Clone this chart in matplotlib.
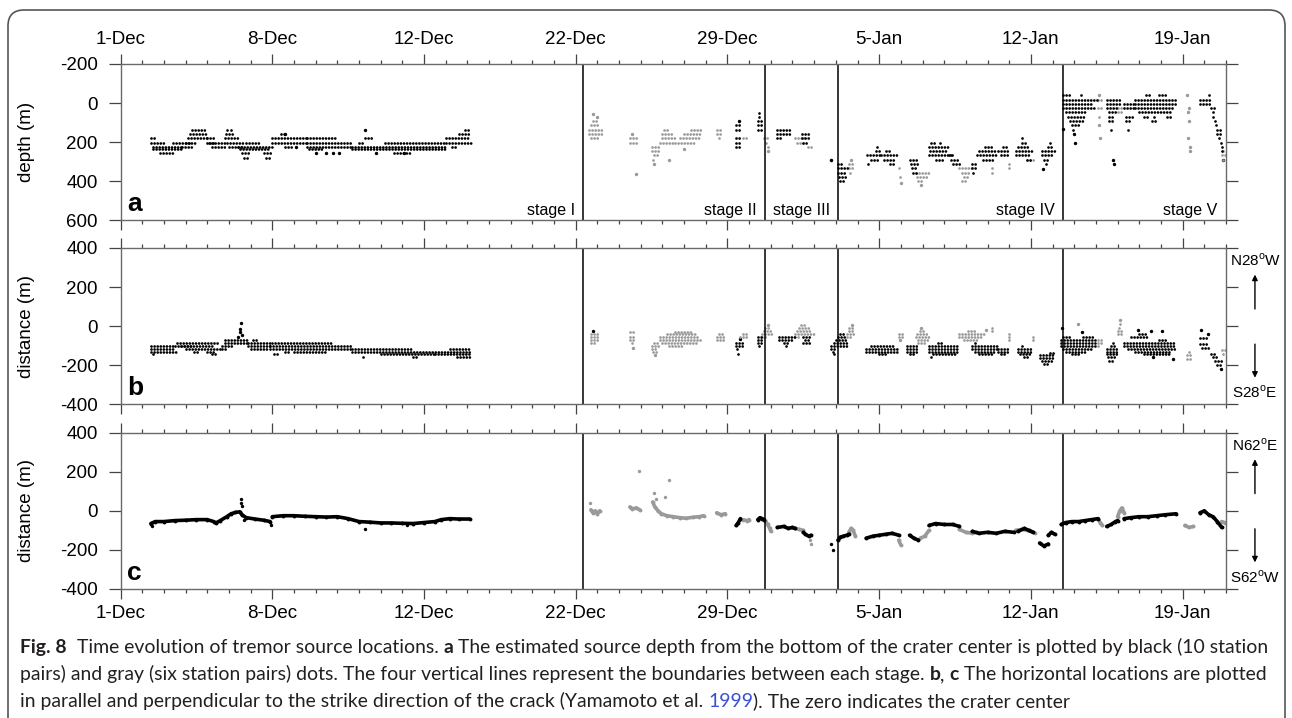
import matplotlib
matplotlib.use('Agg')
import matplotlib.pyplot as plt
from matplotlib.patches import FancyBboxPatch

plt.rcParams['font.family'] = ['Liberation Sans', 'DejaVu Sans']
plt.rcParams['axes.unicode_minus'] = False
plt.rcParams['mathtext.fontset'] = 'custom'
plt.rcParams['mathtext.rm'] = 'Liberation Sans'

# time axis: days since 1-Dec, one minor tick per day
day_ticks = [0, 7, 14, 21, 28, 35, 42, 49]
day_labels = ['1-Dec', '8-Dec', '12-Dec', '22-Dec', '29-Dec', '5-Jan', '12-Jan', '19-Jan']
stage_bounds = [21.35, 29.74, 33.12, 43.5]
stage_names = ['stage I', 'stage II', 'stage III', 'stage IV', 'stage V']
t_end = 51

# ---- panel a: depth rows (t_start, t_end, depth) ----
a_black_rows = [
    (1.42, 1.7, 180), (1.42, 2.0, 202), (1.5, 2.9, 224), (1.5, 2.9, 236), (1.8, 2.47, 258),
    (2.4, 3.5, 202), (2.85, 3.4, 224),
    (3.3, 4.0, 136), (3.2, 4.0, 158), (3.1, 4.1, 180), (3.0, 3.3, 202),
    (4.0, 4.4, 180), (4.0, 4.4, 202), (4.1, 4.9, 202), (4.2, 4.9, 224),
    (4.8, 5.4, 180), (4.85, 5.2, 158), (4.9, 5.0, 136), (5.1, 5.2, 136),
    (4.9, 5.7, 202), (5.0, 5.7, 224),
    (5.4, 7.0, 224), (5.5, 6.9, 236), (5.6, 6.0, 258), (5.7, 5.9, 280),
    (6.6, 6.95, 258), (6.7, 6.95, 280), (5.8, 6.5, 202),
    (7.0, 8.6, 180), (7.0, 8.6, 202), (7.4, 7.65, 158), (7.6, 8.0, 224),
    (8.6, 10.7, 202), (8.6, 10.0, 180), (8.6, 10.7, 224), (8.7, 9.3, 236),
    (10.7, 15.0, 224), (10.7, 15.0, 236), (12.2, 15.0, 202), (11.3, 11.6, 180), (11.0, 11.3, 202),
    (12.6, 13.4, 258),
    (15.0, 16.1, 180), (15.0, 16.15, 202), (15.6, 16.15, 158), (15.9, 16.15, 136), (15.3, 15.5, 224),
    (28.4, 28.6, 114), (28.4, 28.6, 136), (28.4, 28.6, 180), (28.4, 28.6, 202), (28.4, 28.6, 224),
    (29.45, 29.6, 70), (29.4, 29.6, 92), (29.4, 29.6, 114), (29.45, 29.55, 50), (29.4, 29.6, 136),
    (30.3, 31.0, 136), (30.3, 31.0, 158), (30.3, 30.5, 180),
    (31.45, 31.75, 158), (31.45, 31.75, 180), (31.5, 31.75, 202),
    (33.1, 33.55, 334), (33.1, 33.5, 356), (33.15, 33.45, 378), (33.2, 33.4, 400), (33.1, 33.3, 312),
    (34.45, 35.1, 268), (34.6, 35.0, 290), (34.85, 35.05, 246), (34.9, 35.0, 224), (34.5, 34.6, 312),
    (35.1, 35.8, 268), (35.2, 35.7, 290), (35.3, 35.5, 246), (35.5, 35.7, 312),
    (36.4, 36.8, 290), (36.45, 36.8, 312), (36.5, 36.75, 334), (36.55, 36.8, 356),
    (37.3, 38.2, 224), (37.35, 38.1, 246), (37.3, 38.3, 268), (37.4, 37.6, 202), (37.8, 37.9, 202),
    (37.6, 38.0, 290), (38.2, 38.5, 268), (38.3, 38.7, 290), (38.4, 38.75, 312),
    (39.3, 39.5, 334), (39.3, 39.5, 312), (39.35, 39.45, 356),
    (39.5, 40.5, 268), (39.6, 40.4, 246), (39.8, 40.3, 290), (39.9, 40.2, 224),
    (40.5, 41.0, 246), (40.6, 41.0, 268), (40.7, 40.9, 224),
    (41.3, 42.1, 246), (41.3, 42.0, 268), (41.4, 41.9, 224), (41.6, 41.8, 202), (41.6, 41.7, 180),
    (41.8, 42.0, 290),
    (42.5, 43.1, 246), (42.5, 43.0, 268), (42.6, 42.9, 290), (42.7, 42.8, 312), (42.8, 43.05, 224),
    (42.9, 43.0, 202),
    (43.5, 45.1, -18), (43.5, 44.8, 4), (43.5, 44.9, 26), (43.6, 44.6, 48), (43.5, 43.9, -40),
    (44.3, 44.4, -40), (43.7, 44.5, 70), (43.8, 44.4, 92), (43.9, 44.3, 114), (43.95, 44.1, 136),
    (45.5, 46.2, -18), (45.5, 46.2, 4), (45.5, 46.0, 26), (45.6, 46.0, 48), (45.6, 45.9, 70),
    (45.6, 45.8, 92), (45.7, 45.8, 136),
    (46.3, 46.8, 4), (46.3, 46.8, 26), (46.4, 46.7, 70), (46.4, 46.6, 92), (46.5, 46.6, 136),
    (46.8, 48.7, -18), (46.8, 48.7, 4), (46.8, 48.6, 26), (47.0, 48.5, 48), (47.3, 47.6, -40),
    (47.9, 48.3, -40), (47.2, 47.4, 70), (47.6, 47.8, 92), (47.7, 47.8, 70), (48.3, 48.5, 70),
    (49.8, 50.3, -18), (49.8, 50.3, 4), (50.2, 50.35, -40), (50.3, 50.5, 26), (50.4, 50.5, 48),
    (50.4, 50.55, 70), (50.5, 50.6, 92), (50.55, 50.7, 114), (50.6, 50.75, 136), (50.6, 50.8, 158),
    (50.7, 50.8, 180), (50.75, 50.85, 202), (50.8, 50.9, 224), (50.8, 50.9, 246),
]
a_gray_rows = [
    (21.6, 22.2, 136), (21.6, 22.2, 158), (21.7, 22.1, 114), (21.8, 22.0, 92), (21.7, 22.1, 180),
    (23.5, 23.9, 180), (23.5, 23.9, 202),
    (24.5, 24.9, 224), (24.5, 24.9, 246), (24.6, 24.8, 268), (24.55, 24.7, 290),
    (25.0, 25.6, 180), (24.9, 25.6, 202), (25.0, 25.5, 158), (25.05, 25.3, 136),
    (25.6, 26.5, 202), (25.8, 26.7, 180), (26.0, 26.8, 158), (26.3, 26.85, 136),
    (27.5, 27.8, 136), (27.5, 27.8, 158), (27.6, 27.7, 180), (28.7, 29.0, 180),
    (29.7, 29.9, 180), (29.8, 29.9, 202), (29.85, 29.92, 224),
    (31.1, 31.6, 180), (31.2, 31.6, 202), (31.7, 31.95, 224),
    (33.6, 33.85, 312), (33.6, 33.8, 334), (33.65, 33.8, 356),
    (35.9, 36.05, 334), (35.95, 36.05, 378),
    (36.7, 37.3, 356), (36.75, 37.2, 378), (36.8, 37.0, 400),
    (38.7, 39.3, 334), (38.8, 39.2, 356), (38.9, 39.2, 378), (38.8, 39.0, 400),
    (40.2, 40.3, 334), (40.2, 40.3, 356), (41.0, 41.1, 312), (41.0, 41.1, 334),
    (41.8, 42.2, 290),
    (45.1, 45.3, -18), (45.1, 45.3, 26), (45.15, 45.25, 70), (46.0, 46.2, 26), (46.0, 46.2, 48),
    (50.8, 51.0, 268), (50.85, 51.0, 290), (50.85, 50.95, 246),
]
a_black_pts = [
    (7.6, 158), (8.1, 224), (9.0, 258), (9.5, 258), (9.8, 258), (10.1, 258), (11.27, 136),
    (11.8, 258), (13.1, 258), (28.52, 92), (32.8, 290), (42.55, 336), (43.5, 132),
    (44.0, 158), (44.02, 202), (45.8, 290), (45.82, 312), (50.87, 290),
]
a_gray_pts = [
    (21.8, 55), (22.0, 70), (23.8, 362), (23.6, 158), (24.62, 311), (25.3, 290),
    (26.0, 234), (29.88, 246), (32.8, 290), (33.72, 290), (36.02, 410), (36.92, 420),
    (45.15, 114), (45.17, 180), (45.12, -40), (49.22, -40), (49.3, 26), (49.25, 48),
    (49.28, 92), (49.24, 180), (49.32, 224), (49.33, 246),
]

# ---- panel b: distance rows (t_start, t_end, distance) ----
b_black_rows = [
    (1.4, 2.5, -100), (1.4, 2.5, -115), (1.4, 2.6, -130), (1.5, 1.6, -145),
    (2.5, 3.3, -100), (2.6, 4.5, -85), (2.8, 4.3, -100), (3.0, 4.6, -115), (3.4, 3.6, -130),
    (4.0, 4.4, -130), (4.2, 4.5, -145),
    (4.8, 5.9, -85), (4.8, 5.9, -70), (4.7, 5.2, -100), (4.7, 4.9, -115),
    (5.9, 6.9, -85), (5.9, 6.9, -100), (6.0, 6.8, -115), (6.1, 6.3, -70),
    (6.9, 10.7, -100), (6.9, 10.7, -115), (7.0, 9.8, -85), (8.0, 9.5, -130), (7.6, 7.8, -130),
    (7.1, 7.3, -145),
    (10.7, 16.1, -130), (10.7, 13.5, -115), (12.0, 14.5, -145), (14.5, 16.1, -145),
    (15.2, 16.1, -115), (15.5, 16.1, -160), (13.5, 13.7, -160), (11.2, 11.3, -160),
    (28.4, 28.7, -85), (28.4, 28.7, -100), (28.45, 28.6, -115), (28.5, 28.55, -140),
    (29.4, 29.7, -55), (29.4, 29.7, -70), (29.4, 29.7, -85), (29.45, 29.6, -100),
    (30.4, 31.1, -55), (30.4, 31.0, -70), (30.6, 30.9, -85), (30.7, 30.8, -100),
    (31.5, 31.85, -55), (31.5, 31.85, -85), (31.6, 31.8, -70),
    (32.8, 33.6, -100), (32.9, 33.6, -85), (32.8, 33.0, -115), (33.0, 33.5, -70), (33.1, 33.5, -55),
    (33.2, 33.4, -40), (32.85, 32.9, -130), (32.9, 33.0, -145),
    (34.4, 35.9, -115), (34.4, 35.9, -130), (34.6, 35.7, -100), (35.0, 35.3, -145),
    (36.3, 36.8, -100), (36.3, 36.8, -115), (36.3, 36.8, -130), (36.4, 36.7, -145),
    (37.3, 38.7, -100), (37.3, 38.7, -115), (37.3, 38.7, -130), (37.5, 38.5, -145),
    (37.4, 37.5, -160), (37.7, 38.0, -85),
    (39.3, 40.5, -100), (39.3, 40.5, -115), (39.4, 40.4, -130), (39.6, 40.2, -145), (39.4, 39.5, -85),
    (40.5, 41.0, -115), (40.5, 41.0, -130), (40.6, 40.9, -145),
    (41.4, 42.1, -115), (41.4, 42.1, -130), (41.5, 42.0, -145), (41.7, 41.9, -160), (41.6, 41.7, -100),
    (42.4, 43.1, -150), (42.4, 43.1, -165), (42.5, 43.0, -180), (42.6, 42.9, -195), (42.9, 43.1, -135),
    (43.4, 45.1, -70), (43.4, 45.1, -85), (43.4, 45.1, -100), (43.5, 44.8, -115), (43.6, 44.6, -130),
    (43.9, 44.2, -145), (43.5, 43.8, -55), (44.4, 44.9, -55),
    (45.5, 46.0, -115), (45.5, 46.0, -130), (45.5, 46.0, -145), (45.55, 45.9, -160), (45.6, 45.8, -180),
    (45.7, 45.9, -100), (45.8, 45.9, -85),
    (46.3, 48.7, -85), (46.3, 48.7, -100), (46.5, 48.7, -115), (46.8, 48.5, -130), (47.2, 48.4, -145),
    (46.6, 47.4, -55), (47.0, 47.3, -40), (47.9, 48.3, -70),
    (49.8, 50.2, -60), (49.8, 50.2, -90), (49.9, 50.3, -110), (50.3, 50.6, -140), (50.4, 50.7, -160),
    (50.5, 50.8, -180), (50.6, 50.8, -200),
]
b_gray_rows = [
    (21.7, 22.1, -40), (21.7, 22.1, -55), (21.7, 22.1, -70), (21.7, 22.0, -85),
    (23.5, 23.8, -30), (23.5, 23.8, -55), (23.5, 23.8, -70), (23.6, 23.7, -85),
    (24.5, 24.9, -100), (24.5, 24.8, -115), (24.55, 24.75, -130), (24.6, 24.9, -85),
    (24.9, 26.85, -70), (24.9, 26.7, -55), (25.2, 26.5, -40), (25.0, 26.6, -85), (25.6, 26.3, -30),
    (25.3, 26.0, -100),
    (27.5, 27.9, -55), (27.5, 27.9, -70), (27.6, 27.8, -40),
    (28.6, 29.0, -55), (28.7, 28.9, -40),
    (29.6, 30.1, -40), (29.7, 30.1, -25), (29.75, 30.0, -10), (29.6, 29.8, -55),
    (31.1, 32.0, -40), (31.2, 31.9, -25), (31.3, 31.8, -10), (31.4, 31.6, 5), (31.1, 31.4, -55),
    (33.5, 33.9, -40), (33.6, 33.9, -25), (33.6, 33.8, -10), (33.5, 33.7, -55),
    (35.9, 36.1, -40), (35.9, 36.1, -55),
    (36.7, 37.4, -55), (36.8, 37.3, -70), (36.75, 37.2, -40), (36.9, 37.1, -25), (36.8, 37.2, -85),
    (38.7, 39.9, -40), (38.7, 39.8, -55), (38.9, 39.6, -70), (39.1, 39.5, -25),
    (40.2, 40.3, -10), (40.2, 40.3, -25), (41.0, 41.1, -40), (41.0, 41.1, -55), (41.0, 41.1, -70),
    (42.1, 42.2, -55), (42.1, 42.2, -70),
    (45.1, 45.3, -70), (45.1, 45.3, -85), (45.1, 45.2, -100),
    (46.0, 46.3, -40), (46.0, 46.3, -25), (46.05, 46.2, -10), (46.1, 46.2, 10),
    (49.2, 49.5, -150), (49.2, 49.4, -170), (49.3, 49.4, -130),
    (50.8, 51.0, -120), (50.85, 51.0, -140),
]
b_black_pts = [
    (5.55, 15), (5.5, -15), (5.52, -30), (5.6, -45), (5.4, -55), (21.8, -25), (28.6, -65),
    (43.45, -10), (44.35, -30), (46.95, -20), (47.55, -25), (48.05, -25), (48.55, -170),
    (47.65, -160), (49.85, -20), (50.15, -40), (50.75, -220),
]
b_gray_pts = [
    (23.65, -110), (24.65, -150), (29.85, 5), (33.75, 5), (36.95, -10), (39.95, -20),
    (44.15, 10), (46.12, 30), (35.95, -70),
]

# ---- panel c: distance tracks [(t, distance), ...] ----
c_black_tracks = [
    [(1.4, -65), (1.6, -55), (2.0, -55), (2.5, -50), (3.0, -48), (3.5, -45), (4.0, -45), (4.3, -55),
     (4.4, -62), (4.6, -50), (4.9, -30), (5.1, -15), (5.3, -8), (5.5, -5), (5.6, -20), (5.8, -35),
     (6.2, -42), (6.6, -48), (6.9, -55)],
    [(7.0, -30), (7.5, -25), (8.0, -25), (8.5, -28), (9.0, -30), (9.5, -32), (10.0, -30),
     (10.5, -40), (11.0, -55), (11.5, -58), (12.0, -62), (12.5, -62), (13.0, -64), (13.5, -65),
     (14.0, -60), (14.5, -55), (14.8, -45), (15.2, -40), (15.6, -42), (16.1, -42)],
    [(28.4, -75), (28.5, -60), (28.6, -40)],
    [(29.4, -45), (29.5, -35), (29.6, -40), (29.7, -45)],
    [(30.3, -85), (30.6, -80), (30.8, -90), (31.0, -85), (31.1, -90)],
    [(31.5, -110), (31.6, -120), (31.75, -130), (31.85, -125)],
    [(33.1, -150), (33.2, -135), (33.35, -130), (33.5, -125), (33.6, -120)],
    [(34.4, -140), (34.7, -130), (35.0, -125), (35.3, -120), (35.6, -115), (35.9, -125)],
    [(36.4, -125), (36.6, -140), (36.8, -150)],
    [(37.3, -75), (37.6, -65), (38.0, -70), (38.4, -70), (38.7, -80)],
    [(39.3, -105), (39.6, -115), (40.0, -110), (40.4, -115), (40.8, -105), (41.2, -110)],
    [(41.4, -105), (41.7, -90), (41.9, -100), (42.1, -110)],
    [(42.4, -165), (42.6, -180), (42.8, -170)],
    [(42.8, -125), (42.95, -110), (43.1, -120)],
    [(43.4, -70), (43.6, -60), (43.9, -55), (44.2, -55), (44.5, -50), (44.8, -45), (45.1, -40)],
    [(45.5, -80), (45.7, -70), (45.9, -55), (46.0, -50)],
    [(46.3, -40), (46.6, -35), (47.0, -30), (47.4, -30), (47.8, -25), (48.2, -20), (48.7, -15)],
    [(49.8, -10), (50.0, 0), (50.2, -20), (50.4, -30), (50.6, -55), (50.8, -85)],
]
c_gray_tracks = [
    [(21.7, 5), (21.8, -10), (21.9, 0), (22.0, -15), (22.1, 0)],
    [(23.5, 20), (23.6, 10), (23.8, 15), (23.95, 5)],
    [(24.55, 45), (24.65, 20), (24.8, 0), (24.95, -15), (25.2, -25), (25.5, -30), (25.8, -35),
     (26.1, -38), (26.4, -33), (26.7, -30), (26.9, -25)],
    [(27.5, -10), (27.7, -20), (27.9, -15)],
    [(28.7, -45), (28.9, -50), (29.0, -45)],
    [(29.75, -50), (29.85, -70), (29.95, -90), (30.0, -105)],
    [(31.1, -90), (31.3, -95), (31.5, -100)],
    [(33.6, -110), (33.7, -90), (33.8, -100), (33.9, -130)],
    [(35.9, -150), (36.0, -175)],
    [(36.9, -140), (37.1, -130), (37.3, -100)],
    [(38.7, -95), (39.0, -110), (39.3, -115), (39.5, -110)],
    [(41.3, -100), (41.6, -95), (42.0, -105), (42.2, -115)],
    [(45.1, -40), (45.2, -60), (45.3, -75)],
    [(46.0, -30), (46.1, 0), (46.2, 15), (46.3, -10)],
    [(49.1, -75), (49.3, -85), (49.5, -80)],
    [(50.8, -55), (50.95, -60)],
]
c_black_pts = [
    (1.45, -78), (5.55, 62), (5.55, 40), (5.6, 25), (5.7, -45), (6.95, -72), (11.3, -92),
    (32.8, -170), (32.85, -200), (13.2, -75),
]
c_gray_pts = [
    (23.9, 204), (21.65, 40), (24.6, 93), (25.3, 159), (25.1, 71), (24.7, 60), (31.85, -168),
    (31.8, -150),
]

# ---------------------------------------------------------------
black = '#000000'
gray = '#9a9a9a'
spine_col = '#6a6a6a'

fig = plt.figure(figsize=(12.92, 7.18), dpi=100)
left, width, h = 0.0933, 0.8556, 0.2177
ax_a = fig.add_axes([left, 0.6932, width, h])
ax_b = fig.add_axes([left, 0.4369, width, h])
ax_c = fig.add_axes([left, 0.1797, width, h])


def draw_rows(ax, rows, color):
    t0 = [r[0] for r in rows]
    t1 = [r[1] for r in rows]
    y = [r[2] for r in rows]
    lc = ax.hlines(y, t0, t1, colors=color, linewidth=2.0, linestyles=[(0, (0.01, 1.1))])
    lc.set_capstyle('round')


def draw_pts(ax, pts, color):
    ax.scatter([p[0] for p in pts], [p[1] for p in pts], s=6, c=color, linewidths=0)


def draw_tracks(ax, tracks, color):
    for tr in tracks:
        ax.plot([p[0] for p in tr], [p[1] for p in tr], color=color, lw=2.6,
                solid_capstyle='round', solid_joinstyle='round',
                marker='o', ms=2.8, mew=0)


draw_rows(ax_a, a_gray_rows, gray)
draw_pts(ax_a, a_gray_pts, gray)
draw_rows(ax_a, a_black_rows, black)
draw_pts(ax_a, a_black_pts, black)

draw_rows(ax_b, b_gray_rows, gray)
draw_pts(ax_b, b_gray_pts, gray)
draw_rows(ax_b, b_black_rows, black)
draw_pts(ax_b, b_black_pts, black)

draw_tracks(ax_c, c_gray_tracks, gray)
draw_pts(ax_c, c_gray_pts, gray)
draw_tracks(ax_c, c_black_tracks, black)
draw_pts(ax_c, c_black_pts, black)

for ax in (ax_a, ax_b, ax_c):
    ax.set_xlim(0, t_end)
    ax.set_xticks(day_ticks)
    ax.set_xticks(range(0, t_end + 1), minor=True)
    ax.set_xticklabels(day_labels)
    for b in stage_bounds:
        ax.axvline(b, color='black', lw=1.1)
    for s in ax.spines.values():
        s.set_color(spine_col)
        s.set_linewidth(1.0)
    ax.tick_params(axis='x', which='both', top=True, bottom=True, direction='out',
                   color='#444444', labelsize=13.5, pad=4, labelbottom=False)
    ax.tick_params(axis='x', which='major', length=7.2, width=0.9)
    ax.tick_params(axis='x', which='minor', length=3.2, width=0.9)
    ax.tick_params(axis='y', which='major', left=True, right=True, direction='out',
                   length=8.3, width=0.9, color='#444444', labelsize=13.5, pad=8)

ax_a.set_ylim(600, -200)
ax_a.set_yticks([-200, 0, 200, 400, 600])
ax_a.tick_params(axis='x', labeltop=True)
for ax in (ax_b, ax_c):
    ax.set_ylim(-400, 400)
    ax.set_yticks([-400, -200, 0, 200, 400])
ax_c.tick_params(axis='x', labelbottom=True)

ax_a.set_ylabel('depth (m)', fontsize=13.5)
ax_b.set_ylabel('distance (m)', fontsize=13.5)
ax_c.set_ylabel('distance (m)', fontsize=13.5)
for ax in (ax_a, ax_b, ax_c):
    ax.yaxis.set_label_coords(-0.0774, 0.5)

for ax, letter in zip((ax_a, ax_b, ax_c), 'abc'):
    ax.text(0.0058, 0.06, letter, transform=ax.transAxes, fontsize=19, fontweight='bold',
            va='baseline', ha='left')

# stage labels at bottom right of each stage
right_edges = stage_bounds + [t_end]
for name, xr in zip(stage_names, right_edges):
    ax_a.text(xr - 0.4, 0.034, name, transform=ax_a.get_xaxis_transform(), fontsize=11.5,
              ha='right', va='baseline')

# direction annotations on the right
for ax, north, south in ((ax_b, r'N28$^{\rm o}$W', r'S28$^{\rm o}$E'),
                         (ax_c, r'N62$^{\rm o}$E', r'S62$^{\rm o}$W')):
    xc = 1.0262
    ax.text(xc, 0.92, north, transform=ax.transAxes, fontsize=11, ha='center', va='center')
    ax.text(xc, 0.075, south, transform=ax.transAxes, fontsize=11, ha='center', va='center')
    ax.annotate('', xy=(xc, 0.83), xytext=(xc, 0.61), xycoords='axes fraction',
                arrowprops=dict(arrowstyle='-|>', lw=1.0, color='black', mutation_scale=8,
                                shrinkA=0, shrinkB=0))
    ax.annotate('', xy=(xc, 0.17), xytext=(xc, 0.385), xycoords='axes fraction',
                arrowprops=dict(arrowstyle='-|>', lw=1.0, color='black', mutation_scale=8,
                                shrinkA=0, shrinkB=0))

# page frame with rounded corners
frame = FancyBboxPatch((0.08, -1.0), 12.77, 8.08, boxstyle='round,pad=0,rounding_size=0.16',
                       transform=fig.dpi_scale_trans, fill=False, edgecolor='#555555', lw=1.2)
fig.patches.append(frame)

# caption
cap_font = ['Lato', 'DejaVu Sans']
kc = '#231f20'
blue = '#3a4fd6'
cap_lines = [
    [('Fig. 8', True, kc), ('  Time evolution of tremor source locations. ', False, kc), ('a', True, kc),
     (' The estimated source depth from the bottom of the crater center is plotted by black (10 station',
      False, kc)],
    [('pairs) and gray (six station pairs) dots. The four vertical lines represent the boundaries between '
      'each stage. ', False, kc), ('b', True, kc), (', ', False, kc), ('c', True, kc),
     (' The horizontal locations are plotted', False, kc)],
    [('in parallel and perpendicular to the strike direction of the crack (Yamamoto et al. ', False, kc),
     ('1999', False, blue), ('). The zero indicates the crater center', False, kc)],
]
renderer = fig.canvas.get_renderer()


def seg_width(s, bold, size):
    kw = dict(fontsize=size, family=cap_font, fontweight='bold' if bold else 'normal')
    t1 = fig.text(0, 0, s + '|', **kw)
    t2 = fig.text(0, 0, '|', **kw)
    w = t1.get_window_extent(renderer).width - t2.get_window_extent(renderer).width
    t1.remove()
    t2.remove()
    return w


base = 12.0
w1 = sum(seg_width(s, b, base) for s, b, c in cap_lines[0])
size = base * 1246.0 / w1

W, H = 1292.0, 718.0
baselines = [653, 680, 707]
for parts, yb in zip(cap_lines, baselines):
    x = 20.0
    for s, b, c in parts:
        fig.text(x / W, 1 - yb / H, s, fontsize=size, family=cap_font, color=c,
                 fontweight='bold' if b else 'normal', va='baseline', ha='left')
        x += seg_width(s, b, size)

fig.savefig('out.png', dpi=100)
